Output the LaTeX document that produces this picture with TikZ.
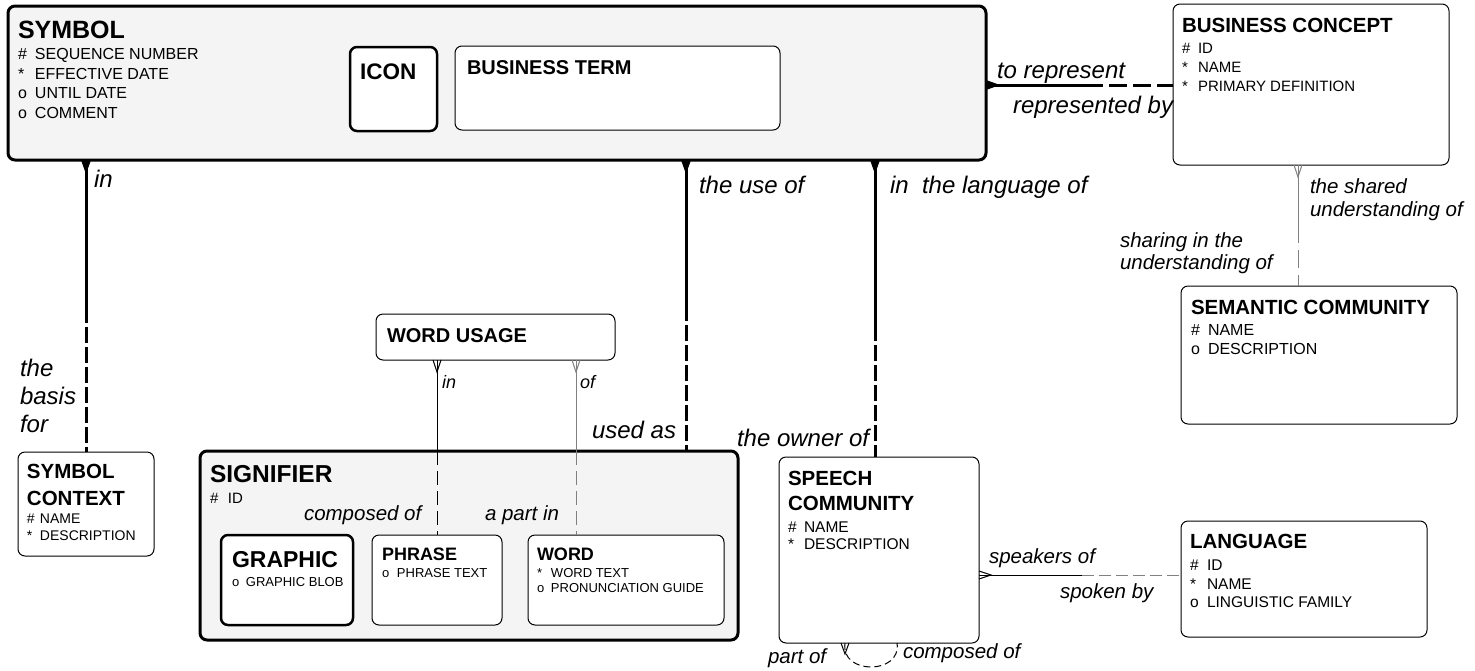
\documentclass[tikz,border=0pt]{standalone}
\usepackage{fontspec}
\setmainfont{Liberation Sans}
\usetikzlibrary{calc}
\definecolor{boxgray}{HTML}{F4F4F4}
\definecolor{lgray}{HTML}{808080}
\newcommand{\mk}[2][16pt]{\makebox[#1][l]{#2}}
\tikzset{
 ent/.style={draw, rectangle, rounded corners=7pt, anchor=north west, inner sep=0pt, outer sep=0pt, line width=1pt, fill=white},
 entthick/.style={ent, line width=2.5pt},
 supert/.style={ent, line width=3pt, fill=boxgray},
 txt/.style={anchor=base west, inner sep=0pt, outer sep=0pt},
 ttl/.style={txt, font=\bfseries\fontsize{#1}{#1}\selectfont},
 att/.style={txt, font=\fontsize{#1}{#1}\selectfont},
 lbl/.style={txt, font=\itshape\fontsize{#1}{#1}\selectfont},
 rel/.style={line width=3pt},
 reldash/.style={line width=3pt, dash pattern=on 16pt off 4pt},
 thin/.style={line width=1pt},
 thindash/.style={line width=1pt, dash pattern=on 14pt off 6pt},
}
\begin{document}
\begin{tikzpicture}[x=1pt,y=-1pt]
\useasboundingbox (0,0) rectangle (1475,670);
% ---------- entity boxes ----------
\node[supert, minimum width=978pt, minimum height=154pt] (sym) at (8,6) {};
\node[entthick, minimum width=87pt, minimum height=84pt] (icon) at (350,47) {};
\node[ent, minimum width=325pt, minimum height=84pt] (bterm) at (455,46) {};
\node[ent, minimum width=276pt, minimum height=161pt] (bc) at (1173,4) {};
\node[ent, minimum width=276pt, minimum height=138pt] (sc) at (1181,286) {};
\node[ent, minimum width=136pt, minimum height=104pt] (ctx) at (18,452) {};
\node[ent, minimum width=239pt, minimum height=46pt] (wu) at (376,314) {};
\node[supert, minimum width=538pt, minimum height=189pt] (sig) at (200,451) {};
\node[entthick, minimum width=132pt, minimum height=90pt] (graphic) at (221,535) {};
\node[ent, minimum width=130pt, minimum height=90pt] (phrase) at (372,535) {};
\node[ent, minimum width=196pt, minimum height=90pt] (word) at (528,535) {};
\node[ent, minimum width=200pt, minimum height=186pt] (speech) at (779,457) {};
\node[ent, minimum width=246pt, minimum height=116pt] (lang) at (1181,521) {};
% ---------- entity texts ----------
\node[ttl=25] (symT) at (18,38) {SYMBOL};
\node[att=16] (symA1) at (18,59.5) {\mk[17pt]{\#}SEQUENCE NUMBER};
\node[att=16] (symA2) at (18,79) {\mk[17pt]{*}EFFECTIVE DATE};
\node[att=16] (symA3) at (18,98.5) {\mk[17pt]{o}UNTIL DATE};
\node[att=16] (symA4) at (18,118) {\mk[17pt]{o}COMMENT};
\node[ttl=22.5] (iconT) at (360,79) {ICON};
\node[ttl=20] (btermT) at (467,74) {BUSINESS TERM};
\node[ttl=20.5] (bcT) at (1182,32) {BUSINESS CONCEPT};
\node[att=15] (bcA1) at (1182,53) {\mk[16pt]{\#}ID};
\node[att=15] (bcA2) at (1182,72) {\mk[16pt]{*}NAME};
\node[att=15] (bcA3) at (1182,91) {\mk[16pt]{*}PRIMARY DEFINITION};
\node[ttl=20.5] (scT) at (1191,314) {SEMANTIC COMMUNITY};
\node[att=16] (scA1) at (1191,335) {\mk[17pt]{\#}NAME};
\node[att=16] (scA2) at (1191,354) {\mk[17pt]{o}DESCRIPTION};
\node[ttl=20.5] (ctxT1) at (27,478) {SYMBOL};
\node[ttl=20.5] (ctxT2) at (27,505) {CONTEXT};
\node[att=14] (ctxA1) at (27,523) {\mk[13pt]{\#}NAME};
\node[att=14] (ctxA2) at (27,540) {\mk[13pt]{*}DESCRIPTION};
\node[ttl=20] (wuT) at (387,342) {WORD USAGE};
\node[ttl=24.5] (sigT) at (210,482) {SIGNIFIER};
\node[att=15] (sigA1) at (210,503) {\mk[18pt]{\#}ID};
\node[ttl=23] (graphicT) at (232,567) {GRAPHIC};
\node[att=13] (graphicA1) at (232,586) {\mk[14pt]{o}GRAPHIC BLOB};
\node[ttl=18] (phraseT) at (382,560) {PHRASE};
\node[att=13] (phraseA1) at (382,577) {\mk[15pt]{o}PHRASE TEXT};
\node[ttl=18] (wordT) at (537,560) {WORD};
\node[att=13] (wordA1) at (537,577) {\mk[14pt]{*}WORD TEXT};
\node[att=13] (wordA2) at (537,592) {\mk[14pt]{o}PRONUNCIATION GUIDE};
\node[ttl=20.5] (speechT1) at (788,485) {SPEECH};
\node[ttl=20.5] (speechT2) at (788,510) {COMMUNITY};
\node[att=15.5] (speechA1) at (788,532) {\mk[16pt]{\#}NAME};
\node[att=15.5] (speechA2) at (788,549) {\mk[16pt]{*}DESCRIPTION};
\node[ttl=20.5] (langT) at (1190,548) {LANGUAGE};
\node[att=15.5] (langA1) at (1190,570) {\mk[17pt]{\#}ID};
\node[att=15.5] (langA2) at (1190,589) {\mk[17pt]{*}NAME};
\node[att=15.5] (langA3) at (1190,607) {\mk[17pt]{o}LINGUISTIC FAMILY};
% ---------- helper coordinates ----------
\coordinate (xuse) at (686,0);
\coordinate (xlang) at (875,0);
\coordinate (yrep) at (0,85);
\coordinate (xsem) at (1298,0);
\coordinate (xin) at (437,0);
\coordinate (xof) at (576,0);
\coordinate (yspk) at (0,575);
\coordinate (m1) at (86,307);
\coordinate (m2) at (686,305);
\coordinate (m3) at (875,325);
\coordinate (m4) at (1085,85);
\coordinate (m5) at (1298,225);
\coordinate (m8) at (1082,575);
% ---------- SYMBOL - SYMBOL CONTEXT ----------
\draw[rel] (sym.south -| ctx.north) -- (m1);
\draw[reldash] (m1) -- (ctx.north);
\fill (sym.south -| ctx.north) ++(-5,0) -- ++(10,0) -- ++(-5,14) -- cycle;
% ---------- SYMBOL - SIGNIFIER ----------
\draw[rel] (sym.south -| xuse) -- (m2);
\draw[reldash] (m2) -- (sig.north -| xuse);
\fill (sym.south -| xuse) ++(-5,0) -- ++(10,0) -- ++(-5,14) -- cycle;
% ---------- SYMBOL - SPEECH COMMUNITY ----------
\draw[rel] (sym.south -| xlang) -- (m3);
\draw[reldash] (m3) -- (speech.north -| xlang);
\fill (sym.south -| xlang) ++(-5,0) -- ++(10,0) -- ++(-5,14) -- cycle;
% ---------- SYMBOL - BUSINESS CONCEPT ----------
\draw[rel] (sym.east |- yrep) -- (m4);
\draw[line width=3pt, dash pattern=on 18pt off 6pt] (m4) -- (bc.west |- yrep);
\fill (sym.east |- yrep) ++(0,-5) -- ++(0,10) -- ++(14,-5) -- cycle;
% ---------- BUSINESS CONCEPT - SEMANTIC COMMUNITY ----------
\draw[thin, lgray] (bc.south -| xsem) -- (m5);
\draw[thin, lgray, dash pattern=on 18pt off 7pt] (m5) -- (sc.north -| xsem);
\draw[thin, lgray] (bc.south -| xsem) ++(-4,0) -- ++(4,12) -- ++(4,-12);
% ---------- WORD USAGE - PHRASE ----------
\draw[thin] (wu.south -| xin) -- (sig.north -| xin);
\draw[thindash] (sig.north -| xin) -- (phrase.north -| xin);
\draw[thin] (wu.south -| xin) ++(-4,0) -- ++(4,12) -- ++(4,-12);
% ---------- WORD USAGE - WORD ----------
\draw[thin, lgray] (wu.south -| xof) -- (sig.north -| xof);
\draw[thindash, lgray] (sig.north -| xof) -- (word.north -| xof);
\draw[thin, lgray] (wu.south -| xof) ++(-4,0) -- ++(4,12) -- ++(4,-12);
% ---------- SPEECH COMMUNITY - LANGUAGE ----------
\draw[thin] (speech.east |- yspk) -- (m8);
\draw[thin, lgray, dash pattern=on 12pt off 5pt] (m8) -- (lang.west |- yspk);
\draw[thin] (speech.east |- yspk) ++(0,-4) -- ++(12,4) -- ++(-12,4);
% ---------- SPEECH COMMUNITY self loop ----------
\coordinate (lpA) at (845,643);
\coordinate (lpB) at (897,643);
\draw[thin, dash pattern=on 7pt off 4pt] (lpA) .. controls (840,675) and (902,675) .. (lpB);
\draw[thin] (lpA) ++(-4,0) -- ++(4,11) -- ++(4,-11);
% ---------- relationship labels ----------
\node[lbl=24] (l1) at (94,187) {in};
\node[lbl=24] (l2a) at (20,376) {the};
\node[lbl=24] (l2b) at (20,404) {basis};
\node[lbl=24] (l2c) at (20,432) {for};
\node[lbl=24] (l3) at (699,193) {the use of};
\node[lbl=24] (l4) at (592,438) {used as};
\node[lbl=24] (l5) at (890,193) {in\ \ the language of};
\node[lbl=24] (l6) at (737,446) {the owner of};
\node[lbl=24] (l7) at (997,78) {to represent};
\node[lbl=24] (l8) at (1013,113) {represented by};
\node[lbl=20.5] (l9a) at (1310,193) {the shared};
\node[lbl=20.5] (l9b) at (1310,216) {understanding of};
\node[lbl=20.5] (l10a) at (1120,247) {sharing in the};
\node[lbl=20.5] (l10b) at (1120,269) {understanding of};
\node[lbl=18] (l11) at (442,388) {in};
\node[lbl=18] (l12) at (580,388) {of};
\node[lbl=20.5] (l13) at (304,520) {composed of};
\node[lbl=20.5] (l14) at (485,520) {a part in};
\node[lbl=20.5] (l15) at (989,563) {speakers of};
\node[lbl=20.5] (l16) at (1060,598) {spoken by};
\node[lbl=20.5] (l17) at (768,663) {part of};
\node[lbl=20.5] (l18) at (903,658) {composed of};
\end{tikzpicture}
\end{document}
